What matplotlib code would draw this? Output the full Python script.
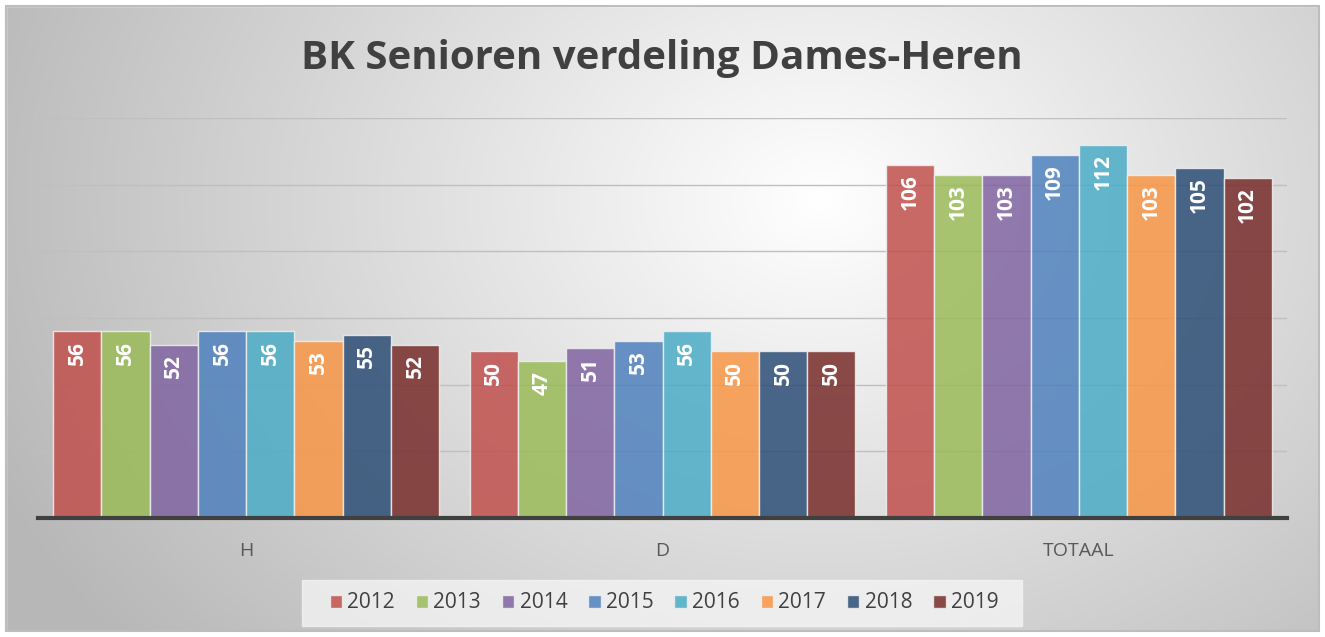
import numpy as np
import matplotlib
matplotlib.use('Agg')
import matplotlib.pyplot as plt
from matplotlib.patches import Rectangle

categories = ['H', 'D', 'TOTAAL']
years = ['2012', '2013', '2014', '2015', '2016', '2017', '2018', '2019']
values = {
    '2012': [56, 50, 106],
    '2013': [56, 47, 103],
    '2014': [52, 51, 103],
    '2015': [56, 53, 109],
    '2016': [56, 56, 112],
    '2017': [53, 50, 103],
    '2018': [55, 50, 105],
    '2019': [52, 50, 102],
}
colors = ['#c0504d', '#9bbb59', '#8064a2', '#4f81bd', '#4bacc6', '#f79646', '#2c4d75', '#772c2a']

W, H = 1325, 637
fig = plt.figure(figsize=(W / 100, H / 100), dpi=100)

# radial gradient background
bg = fig.add_axes([0, 0, 1, 1])
yy, xx = np.mgrid[0:H, 0:W]
d = np.sqrt(((xx - 820) / 900.0) ** 2 + ((yy - 200) / 700.0) ** 2)
shade = np.clip(1.0 - 0.28 * d, 0.72, 1.0)
rgb = np.dstack([shade, shade, shade])
bg.imshow(rgb, extent=[0, W, H, 0], aspect='auto', interpolation='bilinear')
bg.add_patch(Rectangle((0, 0), W, 6, color='white'))
bg.add_patch(Rectangle((0, 0), 6, H, color='white'))
bg.add_patch(Rectangle((0, H - 6), W, 6, color='white'))
bg.add_patch(Rectangle((W - 6, 0), 6, H, color='white'))
bg.add_patch(Rectangle((6, 6), W - 12, H - 12, fill=False, edgecolor='#bdbdbd', lw=1.5))
# legend box
bg.add_patch(Rectangle((302, 580), 720, 46, color='#f6f6f6', alpha=0.75))
bg.set_xlim(0, W)
bg.set_ylim(H, 0)
bg.axis('off')

ax = fig.add_axes([38 / W, (H - 518) / H, (1287 - 38) / W, 400 / H])
ax.patch.set_alpha(0)

x = np.arange(len(categories))
n = len(years)
bw = 0.927 / n
for i, yr in enumerate(years):
    pos = x - 0.927 / 2 + bw * (i + 0.5)
    bars = ax.bar(pos, values[yr], width=bw, color=colors[i], alpha=0.85,
                  edgecolor='#f0f0f0', linewidth=1, label=yr, zorder=3)
    for b, v in zip(bars, values[yr]):
        ax.text(b.get_x() + b.get_width() / 2, v - 2.8, str(v), rotation=90,
                ha='center', va='top', color='white', fontsize=15,
                fontweight='bold', family='Open Sans', zorder=4)

ax.set_ylim(0, 120)
ax.set_xlim(-0.5, 2.5)
ax.set_yticks([0, 20, 40, 60, 80, 100, 120])
ax.yaxis.grid(True, color='#bfbfbf', lw=1, zorder=0)
ax.tick_params(axis='y', left=False, labelleft=False)
ax.tick_params(axis='x', bottom=False, pad=14)
ax.set_xticks(x)
ax.set_xticklabels(categories, color='#595959', fontsize=14, family='Open Sans')
for s in ['top', 'right', 'left']:
    ax.spines[s].set_visible(False)
ax.spines['bottom'].set_color('#404040')
ax.spines['bottom'].set_linewidth(3)
ax.spines['bottom'].set_zorder(5)

fig.text(662 / W, 1 - 58 / H, 'BK Senioren verdeling Dames-Heren', ha='center', va='center',
         fontsize=29, fontweight='bold', color='#404040', family='Open Sans')

leg = fig.legend(loc='center', bbox_to_anchor=(664 / W, 1 - 603 / H), ncol=8, frameon=False,
                 prop={'family': 'Open Sans', 'size': 15}, handlelength=0.6, handleheight=0.6,
                 handletextpad=0.25, columnspacing=1.0, labelcolor='#404040')

fig.savefig('out.png', dpi=100)
